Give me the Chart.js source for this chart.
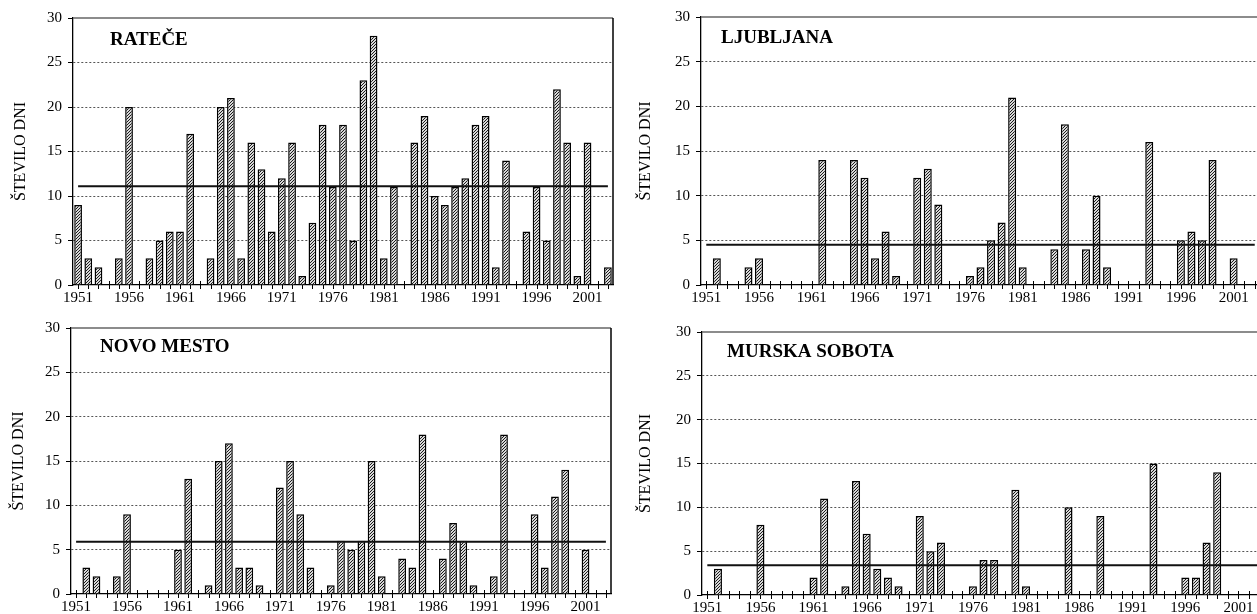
<!DOCTYPE html>
<html>
<head>
<meta charset="utf-8">
<script src="https://cdn.jsdelivr.net/npm/chart.js@4.4.0/dist/chart.umd.min.js"></script>
<style>
  html, body { margin: 0; padding: 0; background: #fff; overflow: hidden; width: 1257px; height: 614px; }
  canvas { position: absolute; }
</style>
</head>
<body>
<canvas id="ratece" width="630" height="307" style="left:0;top:0"></canvas>
<canvas id="ljubljana" width="650" height="307" style="left:630px;top:0"></canvas>
<canvas id="novomesto" width="630" height="307" style="left:0;top:307px"></canvas>
<canvas id="murska" width="650" height="307" style="left:630px;top:307px"></canvas>
<script>
// years on the x axis
const years = ['1951','1952','1953','1954','1955','1956','1957','1958','1959','1960',
  '1961','1962','1963','1964','1965','1966','1967','1968','1969','1970',
  '1971','1972','1973','1974','1975','1976','1977','1978','1979','1980',
  '1981','1982','1983','1984','1985','1986','1987','1988','1989','1990',
  '1991','1992','1993','1994','1995','1996','1997','1998','1999','2000',
  '2001','2002','2003'];

// number of days per year, per station
const ratece = [9,3,2,0,3,20,0,3,5,6, 6,17,0,3,20,21,3,16,13,6,
  12,16,1,7,18,11,18,5,23,28, 3,11,0,16,19,10,9,11,12,18,
  19,2,14,0,6,11,5,22,16,1, 16,0,2];
const ljubljana = [0,3,0,0,2,3,0,0,0,0, 0,14,0,0,14,12,3,6,1,0,
  12,13,9,0,0,1,2,5,7,21, 2,0,0,4,18,0,4,10,2,0,
  0,0,16,0,0,5,6,5,14,0, 3,0,0];
const novoMesto = [0,3,2,0,2,9,0,0,0,0, 5,13,0,1,15,17,3,3,1,0,
  12,15,9,3,0,1,6,5,6,15, 2,0,4,3,18,0,4,8,6,1,
  0,2,18,0,0,9,3,11,14,0, 5,0,0];
const murskaSobota = [0,3,0,0,0,8,0,0,0,0, 2,11,0,1,13,7,3,2,1,0,
  9,5,6,0,0,1,4,4,0,12, 1,0,0,0,10,0,0,9,0,0,
  0,0,15,0,0,2,2,6,14,0, 0,0,0];

// long-term average (horizontal line)
const meanRatece = 11.1;
const meanLjubljana = 4.5;
const meanNovoMesto = 5.9;
const meanMurskaSobota = 3.4;

const serif = "'Liberation Serif', 'Times New Roman', serif";

// diagonal hatch used to fill the bars
function hatch() {
    const c = document.createElement('canvas');
    c.width = 3; c.height = 3;
    const g = c.getContext('2d');
    g.fillStyle = '#d8d8d8';
    g.fillRect(0, 0, 3, 3);
    g.strokeStyle = '#1a1a1a';
    g.lineWidth = 1;
    g.beginPath();
    g.moveTo(-1, 4); g.lineTo(4, -1);
    g.moveTo(-1, 1); g.lineTo(1, -1);
    g.moveTo(2, 4); g.lineTo(4, 2);
    g.stroke();
    return g.createPattern(c, 'repeat');
}

const framePlugin = {
    id: 'frame',
    beforeDatasetsDraw(chart) {
        const { ctx, chartArea: a, scales: { x } } = chart;
        ctx.save();
        // tick crosses on the x axis
        ctx.strokeStyle = '#000';
        ctx.lineWidth = 1;
        ctx.beginPath();
        for (let i = 0; i < chart.data.labels.length; i++) {
            const px = Math.round(x.getPixelForValue(i)) + 0.5;
            ctx.moveTo(px, a.bottom - 4);
            ctx.lineTo(px, a.bottom + 4);
        }
        ctx.stroke();
        // top and right border of the plot box
        ctx.lineWidth = 1.5;
        ctx.strokeStyle = '#666';
        ctx.beginPath();
        ctx.moveTo(a.left, a.top);
        ctx.lineTo(a.right, a.top);
        ctx.stroke();
        ctx.strokeStyle = '#000';
        ctx.beginPath();
        ctx.moveTo(a.right, a.top);
        ctx.lineTo(a.right, a.bottom);
        ctx.stroke();
        ctx.restore();
    },
    afterDraw(chart, args, opts) {
        const { ctx, chartArea: a } = chart;
        ctx.save();
        ctx.font = 'bold 19px ' + serif;
        ctx.fillStyle = '#000';
        ctx.textBaseline = 'middle';
        ctx.fillText(opts.text, a.left + opts.dx, a.top + opts.dy);
        ctx.restore();
    }
};

function stationChart(id, name, values, mean, box) {
    const canvas = document.getElementById(id);
    return new Chart(canvas, {
        type: 'bar',
        data: {
            labels: years,
            datasets: [
                {
                    type: 'line',
                    data: [{ x: years[0], y: mean }, { x: years[years.length - 1], y: mean }],
                    borderColor: '#111',
                    borderWidth: 2,
                    pointRadius: 0,
                    fill: false,
                    order: 0,
                },
                {
                    data: values,
                    backgroundColor: hatch(),
                    borderColor: '#000',
                    borderWidth: 1.5,
                    barPercentage: 0.76,
                    categoryPercentage: 1.0,
                    order: 1,
                },
            ],
        },
        options: {
            responsive: false,
            animation: false,
            layout: {
                padding: { left: 0, top: box.top, right: canvas.width - box.right, bottom: 0 },
            },
            scales: {
                x: {
                    offset: true,
                    grid: { display: false, drawTicks: false },
                    border: { display: true, color: '#000', width: 1.3 },
                    ticks: {
                        autoSkip: false,
                        maxRotation: 0,
                        padding: 4,
                        color: '#000',
                        font: { family: serif, size: 15 },
                        callback: (v, i) => ((i % 5) === 0 ? years[i] : ''),
                    },
                    afterFit: (s) => { s.height = canvas.height - box.bottom; },
                },
                y: {
                    min: 0,
                    max: 30,
                    ticks: {
                        stepSize: 5,
                        padding: 6,
                        color: '#000',
                        font: { family: serif, size: 15 },
                    },
                    grid: {
                        color: (c) => (c.tick && c.tick.value > 0 && c.tick.value < 30 ? '#555' : 'rgba(0,0,0,0)'),
                        lineWidth: 1,
                        tickLength: 5,
                        tickColor: '#000',
                    },
                    border: { display: true, color: '#000', width: 1.3, dash: [2, 2] },
                    title: {
                        display: true,
                        text: 'ŠTEVILO DNI',
                        color: '#000',
                        font: { family: serif, size: 16 },
                        padding: { top: box.titlePad, bottom: 0 },
                    },
                    afterFit: (s) => { s.width = box.left; },
                },
            },
            plugins: {
                legend: { display: false },
                tooltip: { enabled: false },
                frame: { text: name, dx: box.dx, dy: box.dy },
            },
        },
        plugins: [framePlugin],
    });
}

stationChart('ratece', 'RATEČE', ratece, meanRatece,
    { left: 73, top: 18, right: 613, bottom: 285, titlePad: 11, dx: 37, dy: 22 });
stationChart('ljubljana', 'LJUBLJANA', ljubljana, meanLjubljana,
    { left: 71, top: 17, right: 630, bottom: 285, titlePad: 6, dx: 20, dy: 21 });
stationChart('novomesto', 'NOVO MESTO', novoMesto, meanNovoMesto,
    { left: 71, top: 21, right: 611, bottom: 287, titlePad: 9, dx: 29, dy: 19 });
stationChart('murska', 'MURSKA SOBOTA', murskaSobota, meanMurskaSobota,
    { left: 72, top: 25, right: 635, bottom: 288, titlePad: 6, dx: 25, dy: 20 });
</script>
</body>
</html>
